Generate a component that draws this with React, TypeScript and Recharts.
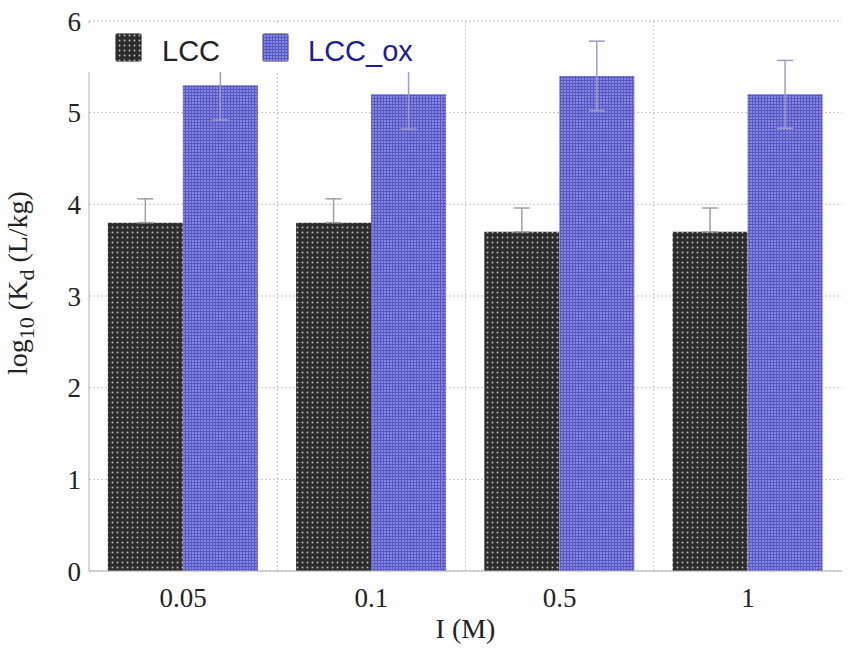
import React from 'react';
import {
  BarChart,
  Bar,
  XAxis,
  YAxis,
  CartesianGrid,
  ErrorBar,
  Legend,
  Label,
} from 'recharts';

const categories = ['0.05', '0.1', '0.5', '1'];
const lccValues = [3.8, 3.8, 3.7, 3.7];
const lccErrors = [0.26, 0.26, 0.26, 0.26];
const lccOxValues = [5.3, 5.2, 5.4, 5.2];
const lccOxErrors = [0.38, 0.38, 0.38, 0.37];
const yTicks = [0, 1, 2, 3, 4, 5, 6];

// upper-only whisker for LCC, the lower half is hidden in the dark bar
const data = categories.map((cat, i) => ({
  cat,
  lcc: lccValues[i],
  lccErr: [0, lccErrors[i]],
  lccOx: lccOxValues[i],
  lccOxErr: lccOxErrors[i],
}));

const serif = '"Liberation Serif", "Times New Roman", serif';
const sans = '"Liberation Sans", Arial, sans-serif';
const frame = '#b0b0b0';

function PatternDefs({ prefix }: { prefix: string }) {
  return (
    <defs>
      <pattern id={`${prefix}-dark`} width={5} height={5} patternUnits="userSpaceOnUse">
        <rect width={5} height={5} fill="#2c2c2c" />
        <circle cx={2.5} cy={2.5} r={1} fill="#b8b8b8" />
      </pattern>
      <pattern id={`${prefix}-blue`} width={3} height={3} patternUnits="userSpaceOnUse">
        <rect width={3} height={3} fill="#5858c4" />
        <rect width={2} height={2} fill="#8686e0" />
      </pattern>
    </defs>
  );
}

function LegendBox() {
  return (
    <svg width={355} height={49} style={{ display: 'block', background: '#fff' }}>
      <PatternDefs prefix="lg" />
      <rect x={28.5} y={10.5} width={26} height={28} rx={2} fill="url(#lg-dark)" stroke="#888" />
      <text x={75} y={38} fontFamily={sans} fontSize={29} fill="#222">
        LCC
      </text>
      <rect x={175.5} y={10.5} width={26} height={28} rx={2} fill="url(#lg-blue)" stroke="#999" />
      <text x={221} y={38} fontFamily={sans} fontSize={29} fill="#1c1c96">
        LCC_ox
      </text>
    </svg>
  );
}

function YLabel() {
  return (
    <text
      transform="translate(27,283) rotate(-90)"
      textAnchor="middle"
      fontFamily={serif}
      fontSize={28}
      fill="#222"
    >
      log
      <tspan fontSize={22} dy={7}>10</tspan>
      <tspan dy={-7}> (K</tspan>
      <tspan fontSize={22} dy={7}>d</tspan>
      <tspan dy={-7}> (L/kg)</tspan>
    </text>
  );
}

export default function App() {
  return (
    <div style={{ position: 'absolute', left: 0, top: 0, width: 851, height: 651, background: '#fff' }}>
      <BarChart
        width={851}
        height={651}
        data={data}
        margin={{ top: 21, right: 9, left: 0, bottom: 0 }}
        barCategoryGap="10%"
        barGap={0}
      >
        <PatternDefs prefix="bar" />
        <CartesianGrid
          stroke="#c4c4c4"
          strokeDasharray="2 2"
          verticalCoordinatesGenerator={({ offset }: any) =>
            [1, 2, 3].map((i) => offset.left + (offset.width * i) / categories.length)
          }
        />
        <XAxis
          dataKey="cat"
          height={80}
          axisLine={{ stroke: frame }}
          tickLine={false}
          tickMargin={11}
          tick={{ fontFamily: serif, fontSize: 27, fill: '#222' }}
        >
          <Label value="I (M)" position="insideBottom" offset={13} fontFamily={serif} fontSize={28} fill="#222" />
        </XAxis>
        <XAxis xAxisId="top" dataKey="cat" orientation="top" height={0} tick={false} tickLine={false} axisLine={{ stroke: frame }} />
        <YAxis
          width={89}
          domain={[0, 6]}
          ticks={yTicks}
          axisLine={{ stroke: frame }}
          tickLine={false}
          tick={{ fontFamily: serif, fontSize: 27, fill: '#222' }}
        >
          <Label content={<YLabel />} />
        </YAxis>
        <YAxis yAxisId="right" orientation="right" width={0} domain={[0, 6]} tick={false} tickLine={false} axisLine={{ stroke: frame }} />
        <Legend
          layout="horizontal"
          verticalAlign="middle"
          align="center"
          wrapperStyle={{ left: 87, top: 23, width: 355, height: 49 }}
          content={() => <LegendBox />}
        />
        <Bar dataKey="lcc" fill="url(#bar-dark)" isAnimationActive={false}>
          <ErrorBar dataKey="lccErr" width={8} stroke="#a0a0a0" strokeWidth={1.5} />
        </Bar>
        <Bar dataKey="lccOx" fill="url(#bar-blue)" isAnimationActive={false}>
          <ErrorBar dataKey="lccOxErr" width={8} stroke="#9c9cc8" strokeWidth={1.5} />
        </Bar>
      </BarChart>
    </div>
  );
}
